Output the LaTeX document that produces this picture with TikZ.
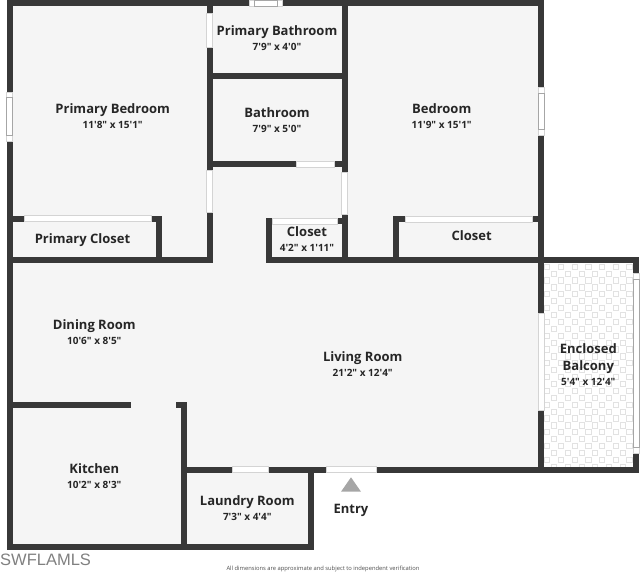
\documentclass[tikz,border=0pt]{standalone}
\usepackage{fontspec}
\usepackage{tikz}
\newfontfamily\planfont{Open Sans}
\newfontfamily\markfont{Liberation Sans}
\definecolor{wallc}{HTML}{383838}
\definecolor{floorc}{HTML}{F5F5F5}
\definecolor{linec}{HTML}{D4D4D4}
\definecolor{tilec}{HTML}{E2E2E2}
\newcommand{\dimtxt}{\fontsize{10}{15}\selectfont}

\begin{document}
\begin{tikzpicture}
	[x=1pt,y=-1pt,every node/.style={inner sep=0pt,text=black!85},
	room/.style={align=center,font=\planfont\bfseries\fontsize{13}{15}\selectfont},
	wall/.style={draw=wallc,line width=6pt,line cap=rect},
	door/.style={fill=white,draw=linec,line width=.5pt},
	glass/.style={draw=black!35,line width=.6pt}]
	\useasboundingbox (0,0) rectangle (640,573);

	% floors
	\fill[floorc] (9.5,3.3) -- (541.3,3.3) -- (541.3,469.7) -- (310.5,469.7) -- (310.5,547) -- (9.5,547) -- cycle;

	% balcony tiles
	\begin{scope}
		\clip (544,262) rectangle (633.5,467);
		\foreach \i in {-1,...,6}
			\foreach \j in {0,...,30} {
				\pgfmathsetmacro{\tx}{547.3+13.7*\i+6.85*mod(\j,2)}
				\pgfmathsetmacro{\ty}{266.7+6.9*\j}
				\draw[tilec,line width=.9pt] (\tx-2.6,\ty-2.6) rectangle (\tx+2.6,\ty+2.6);
			}
	\end{scope}

	% walls
	\draw[wall] (9.5,3.3) -- (541.3,3.3) -- (541.3,469.7) -- (310.5,469.7) -- (310.5,547) -- (9.5,547) -- cycle;
	\draw[wall] (9.5,259.5) -- (209.5,259.5) -- (209.5,3.3);
	\draw[wall] (269.2,259.5) -- (636,259.5) -- (636,469.7) -- (541.3,469.7);
	\draw[wall] (209.5,75.7) -- (344.5,75.7);
	\draw[wall] (209.5,164.3) -- (344.5,164.3);
	\draw[wall] (344.5,3.3) -- (344.5,259.5);
	\draw[wall] (269.2,259.5) -- (269.2,221) -- (340,221);
	\draw[wall] (9.5,218.5) -- (158.8,218.5) -- (158.8,259.5);
	\draw[wall] (396.3,259.5) -- (396.3,218.8) -- (538,218.8);
	\draw[wall] (9.5,404.7) -- (127.5,404.7);
	\draw[wall] (178.5,404.7) -- (184.3,404.7) -- (184.3,547);
	\draw[wall] (184.3,469.7) -- (310.5,469.7);

	% doors
	\draw[door] (206.7,13) rectangle (212.3,47);
	\draw[door] (206.7,170) rectangle (212.3,212);
	\draw[door] (341.7,172) rectangle (347.3,214);
	\draw[door] (296,161.3) rectangle (334,167.3);
	\draw[door] (272.5,218) rectangle (337,224);
	\draw[door] (24.3,215.5) rectangle (151,221.5);
	\draw[door] (405.7,215.8) rectangle (532.7,221.8);
	\draw[door] (538.3,313) rectangle (544.3,410);
	\draw[door] (232,466.7) rectangle (268.7,472.7);
	\draw[door] (326.7,466.7) rectangle (376.7,472.7);

	% windows
	\draw[door] (249,.3) rectangle (282,6.3);
	\draw[glass] (254.5,.3) rectangle (277,6.3);
	\draw[door] (6.5,92) rectangle (12.5,141);
	\draw[glass] (6.5,97.5) rectangle (12.5,135.5);
	\draw[door] (538.3,87) rectangle (544.3,135);
	\draw[glass] (538.3,93) rectangle (544.3,129);
	\draw[door] (633,273) rectangle (639,453);
	\draw[glass] (633.5,279) rectangle (639,447);

	% entry mark
	\fill[black!35] (341,491.7) -- (351,477.3) -- (361,491.7) -- cycle;

	% labels
	\node[room] (pbed) at (112.7,116) {Primary Bedroom\\{\dimtxt 11'8" x 15'1"}};
	\node[room] (pbath) at (277,38.5) {Primary Bathroom\\{\dimtxt 7'9" x 4'0"}};
	\node[room] (bath) at (277,120) {Bathroom\\{\dimtxt 7'9" x 5'0"}};
	\node[room] (bed) at (441.7,116.5) {Bedroom\\{\dimtxt 11'9" x 15'1"}};
	\node[room] (pclo) at (82.5,240.5) {Primary Closet};
	\node[room] (clo) at (307,239.5) {Closet\\{\dimtxt 4'2" x 1'11"}};
	\node[room] (bclo) at (471.7,236) {Closet};
	\node[room] (din) at (94.3,332) {Dining Room\\{\dimtxt 10'6" x 8'5"}};
	\node[room] (liv) at (362.7,364.5) {Living Room\\{\dimtxt 21'2" x 12'4"}};
	\node[room] (balc) at (588.3,364.3) {Enclosed\\[2pt]Balcony\\{\dimtxt 5'4" x 12'4"}};
	\node[room] (kit) at (94.3,475.8) {Kitchen\\{\dimtxt 10'2" x 8'3"}};
	\node[room] (lau) at (247.3,508.3) {Laundry Room\\{\dimtxt 7'3" x 4'4"}};
	\node[room] (ent) at (351,510) {Entry};
	\node[anchor=west,font=\markfont\fontsize{16.5}{18}\selectfont,text=black!50] (mls) at (0,559.5) {SWFLAMLS};
	\node[font=\planfont\fontsize{5.8}{6}\selectfont,text=black!70] (note) at (323,569) {All dimensions are approximate and subject to independent verification};
\end{tikzpicture}
\end{document}
